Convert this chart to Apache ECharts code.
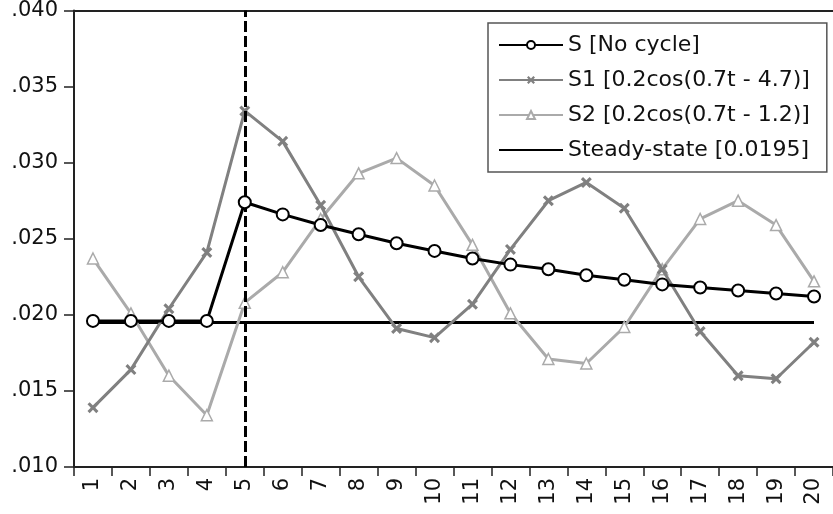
<!DOCTYPE html>
<html>
<head>
<meta charset="utf-8">
<script src="https://cdn.jsdelivr.net/npm/echarts@6/dist/echarts.min.js"></script>
<style>
  html, body { margin: 0; padding: 0; background: #fff; }
  #chart { width: 833px; height: 514px; }
</style>
</head>
<body>
<div id="chart"></div>
<script>
// categories (periods)
var periods = ['1', '2', '3', '4', '5', '6', '7', '8', '9', '10',
               '11', '12', '13', '14', '15', '16', '17', '18', '19', '20'];

// S [No cycle]
var sNoCycle = [0.0196, 0.0196, 0.0196, 0.0196, 0.0274, 0.0266, 0.0259, 0.0253, 0.0247, 0.0242,
                0.0237, 0.0233, 0.0230, 0.0226, 0.0223, 0.0220, 0.0218, 0.0216, 0.0214, 0.0212];
// S1 [0.2cos(0.7t - 4.7)]
var s1 = [0.0139, 0.0164, 0.0204, 0.0241, 0.0334, 0.0314, 0.0272, 0.0225, 0.0191, 0.0185,
          0.0207, 0.0243, 0.0275, 0.0287, 0.0270, 0.0230, 0.0189, 0.0160, 0.0158, 0.0182];
// S2 [0.2cos(0.7t - 1.2)]
var s2 = [0.0237, 0.0201, 0.0160, 0.0134, 0.0208, 0.0228, 0.0263, 0.0293, 0.0303, 0.0285,
          0.0246, 0.0201, 0.0171, 0.0168, 0.0192, 0.0230, 0.0263, 0.0275, 0.0259, 0.0222];
// Steady-state [0.0195]
var steady = [0.0195, 0.0195, 0.0195, 0.0195, 0.0195, 0.0195, 0.0195, 0.0195, 0.0195, 0.0195,
              0.0195, 0.0195, 0.0195, 0.0195, 0.0195, 0.0195, 0.0195, 0.0195, 0.0195, 0.0195];

var seriesNames = ['S [No cycle]', 'S1 [0.2cos(0.7t - 4.7)]', 'S2 [0.2cos(0.7t - 1.2)]', 'Steady-state [0.0195]'];
var shockPeriod = '5';   // dashed vertical line

var crossPath = 'path://M0,2 L2,0 L5,3 L8,0 L10,2 L7,5 L10,8 L8,10 L5,7 L2,10 L0,8 L3,5 Z';
var font = 'DejaVu Sans';

var chart = echarts.init(document.getElementById('chart'));

var option = {
    animation: false,
    backgroundColor: '#fff',
    grid: {
        left: 74,
        right: -4,
        top: 9,
        bottom: 47
    },
    legend: {
        orient: 'vertical',
        left: 488,
        top: 23,
        itemWidth: 64,
        itemHeight: 10,
        itemGap: 13,
        padding: [11, 17, 11, 10],
        borderColor: '#555',
        borderWidth: 1.5,
        backgroundColor: '#fff',
        textStyle: { fontFamily: font, fontSize: 22, color: '#111', lineHeight: 22 },
        data: [
            seriesNames[0],
            seriesNames[1],
            seriesNames[2],
            // 稳态线只显示线段，不显示点
            { name: seriesNames[3], itemStyle: { opacity: 0, borderWidth: 0 } }
        ]
    },
    xAxis: [
        {
            type: 'category',
            data: periods,
            boundaryGap: true,
            axisLine: { lineStyle: { color: '#222', width: 2 } },
            axisTick: { show: true, length: 9, interval: 0, lineStyle: { color: '#222', width: 1.5 } },
            axisLabel: {
                interval: 0,
                rotate: 90,
                margin: 11,
                fontFamily: font,
                fontSize: 21,
                color: '#111'
            },
            splitLine: { show: false }
        },
        {
            // 上边框
            type: 'category',
            position: 'top',
            data: periods,
            axisLine: { show: true, lineStyle: { color: '#222', width: 2 } },
            axisTick: { show: false },
            axisLabel: { show: false },
            splitLine: { show: false }
        }
    ],
    yAxis: {
        type: 'value',
        min: 0.010,
        max: 0.040,
        interval: 0.005,
        axisLine: { show: true, lineStyle: { color: '#222', width: 2 } },
        axisTick: { show: true, length: 10, lineStyle: { color: '#222', width: 1.5 } },
        axisLabel: {
            margin: 16,
            fontFamily: font,
            fontSize: 21,
            color: '#111',
            formatter: function (v) {
                return v.toFixed(3).replace(/^0/, '');
            }
        },
        splitLine: { show: false }
    },
    series: [
        {
            name: seriesNames[3],
            type: 'line',
            data: steady,
            symbol: 'none',
            z: 2,
            lineStyle: { color: '#000', width: 3 },
            itemStyle: { color: '#000' }
        },
        {
            name: seriesNames[2],
            type: 'line',
            data: s2,
            symbol: 'triangle',
            symbolSize: 11,
            z: 3,
            lineStyle: { color: '#aaaaaa', width: 3 },
            itemStyle: { color: '#fff', borderColor: '#aaaaaa', borderWidth: 1.5 }
        },
        {
            name: seriesNames[1],
            type: 'line',
            data: s1,
            symbol: crossPath,
            symbolSize: 11,
            z: 4,
            lineStyle: { color: '#808080', width: 3 },
            itemStyle: { color: '#808080' }
        },
        {
            name: seriesNames[0],
            type: 'line',
            data: sNoCycle,
            symbol: 'circle',
            symbolSize: 12,
            z: 5,
            lineStyle: { color: '#000', width: 3 },
            itemStyle: { color: '#fff', borderColor: '#000', borderWidth: 2 },
            markLine: {
                silent: true,
                symbol: 'none',
                label: { show: false },
                lineStyle: { color: '#000', width: 3, type: [11, 4] },
                data: [{ xAxis: shockPeriod }]
            }
        }
    ]
};

chart.setOption(option);
</script>
</body>
</html>
